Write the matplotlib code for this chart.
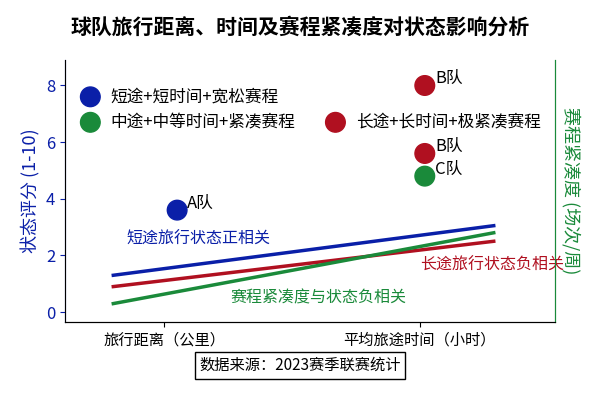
import matplotlib
matplotlib.use("Agg")
import matplotlib.pyplot as plt

plt.rcParams['font.family'] = ['Noto Sans CJK SC', 'DejaVu Sans']

categories = ["旅行距离（公里）", "平均旅途时间（小时）"]
pt_x = [-0.29, -0.29, 0.67, 1.02, 1.02, 1.02, 0.05]
pt_y = [7.6, 6.7, 6.7, 8.0, 5.6, 4.8, 3.6]
pt_c = ["#0a1fa8", "#1a8a3a", "#b01020", "#b01020", "#b01020", "#1a8a3a", "#0a1fa8"]
pt_lab = ["短途+短时间+宽松赛程", "中途+中等时间+紧凑赛程", "长途+长时间+极紧凑赛程", "B队", "B队", "C队", "A队"]
line_x = [-0.2, 1.29]
blue_y = [1.3, 3.05]
red_y = [0.9, 2.5]
green_y = [0.3, 2.8]

fig = plt.figure(figsize=(6, 4), dpi=100)
ax = fig.add_axes([0.108, 0.195, 0.817, 0.655])
ax.set_xlim(-0.39, 1.53)
ax.set_ylim(-0.35, 8.9)
ax.set_xticks([0, 1])
ax.set_xticklabels(categories, fontsize=11)
ax.set_yticks([0, 2, 4, 6, 8])
ax.tick_params(axis='y', colors='#0a1fa8', labelsize=12)
ax.spines['top'].set_visible(False)
ax.spines['left'].set_color('#0a1fa8')
ax.spines['right'].set_color('#1a8a3a')
ax.set_ylabel("状态评分 (1-10)", color='#0a1fa8', fontsize=13)
ax2 = ax.twinx()
ax2.set_yticks([])
ax2.set_ylabel("赛程紧凑度 (场次/周)", color='#1a8a3a', fontsize=13, rotation=270, labelpad=18)
ax2.spines['top'].set_visible(False)
ax2.spines['right'].set_color('#1a8a3a')

ax.plot(line_x, blue_y, color='#0a1fa8', lw=2.5)
ax.plot(line_x, red_y, color='#b01020', lw=2.5)
ax.plot(line_x, green_y, color='#1a8a3a', lw=2.5)
ax.scatter(pt_x, pt_y, s=200, c=pt_c, zorder=3)
for i, (x, y, t) in enumerate(zip(pt_x, pt_y, pt_lab)):
    if i < 3:
        ax.text(x + 0.08, y, t, fontsize=12, va='center')
    else:
        ax.text(x + 0.04, y + 0.25, t, fontsize=12, va='center')
ax.text(-0.15, 2.4, "短途旅行状态正相关", color='#0a1fa8', fontsize=11.5)
ax.text(1.0, 1.5, "长途旅行状态负相关", color='#b01020', fontsize=11.5)
ax.text(0.26, 0.35, "赛程紧凑度与状态负相关", color='#1a8a3a', fontsize=11.5)

fig.text(0.5, 0.915, "球队旅行距离、时间及赛程紧凑度对状态影响分析", ha='center', fontsize=15, fontweight='bold')
fig.text(0.5, 0.075, "数据来源：2023赛季联赛统计", ha='center', fontsize=11,
         bbox=dict(boxstyle='square,pad=0.3', fc='white', ec='black'))
fig.savefig("out.png")
